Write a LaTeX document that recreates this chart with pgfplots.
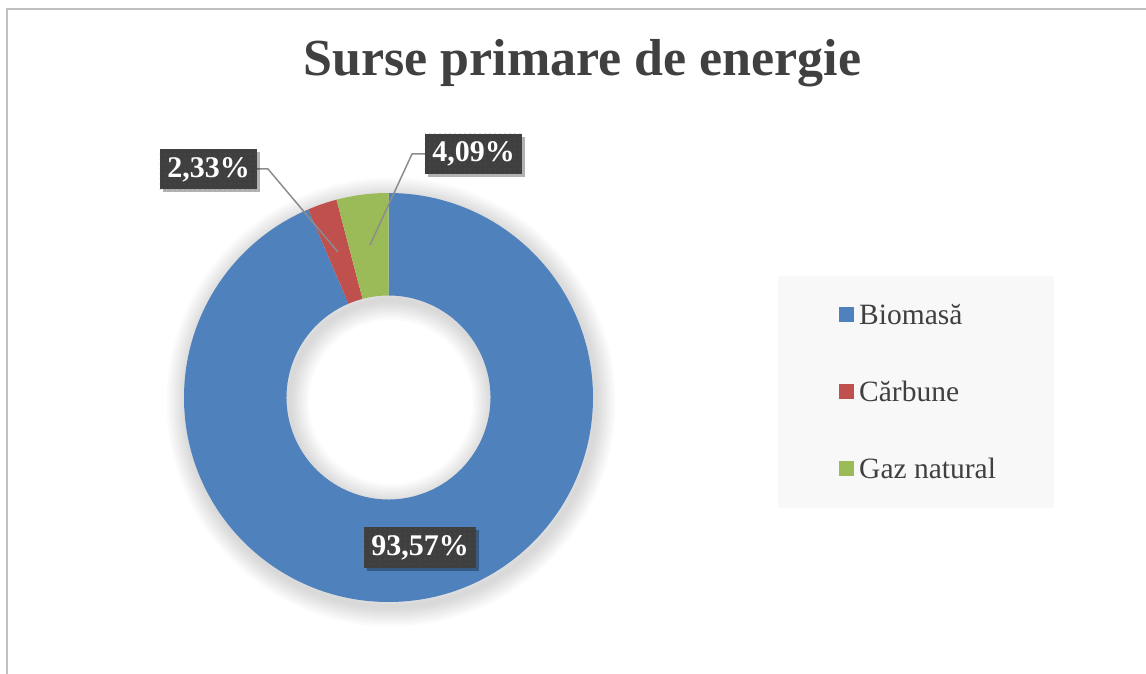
\documentclass[border=0pt]{standalone}
\usepackage{pgfplots}
\pgfplotsset{compat=1.18}
\usepackage{pgfplotstable}
\usepackage{fontspec}
\setmainfont{Liberation Serif}
\usetikzlibrary{patterns.meta,shadows}
\definecolor{cBlue}{HTML}{4F81BD}
\definecolor{cRed}{HTML}{C0504D}
\definecolor{cGreen}{HTML}{9BBB59}
\definecolor{txt}{HTML}{404040}
\definecolor{lbl}{HTML}{3F3F3F}
\definecolor{lbldot}{HTML}{575757}
\definecolor{lgd}{HTML}{F8F8F8}
\definecolor{frm}{HTML}{C0C0C0}
\definecolor{leader}{HTML}{8C8C8C}

\pgfplotstableread[col sep=comma]{
source,value
Biomasa,93.57
Carbune,2.33
Gaz natural,4.09
}\energytable

\newcommand{\cx}{388.5}
\newcommand{\cy}{276.5}
\newcommand{\Ro}{204.5bp}
\newcommand{\Ri}{102bp}
\newcommand{\slice}[3]{%
  \fill[#3] ([shift={(#1:\Ro)}]axis cs:\cx,\cy) arc[start angle=#1, end angle=#2, radius=\Ro]
    -- ([shift={(#2:\Ri)}]axis cs:\cx,\cy) arc[start angle=#2, end angle=#1, radius=\Ri] -- cycle;}
\tikzset{lblbox/.style={fill=lbl, text=white, font=\bfseries\fontsize{30bp}{34bp}\selectfont,
  inner xsep=7.5bp, minimum height=40bp, anchor=center,
  drop shadow={shadow xshift=3bp, shadow yshift=-3bp, opacity=0.3, fill=black},
  postaction={pattern={Dots[radius=0.7bp, distance=5bp]}, pattern color=lbldot}}}

\begin{document}%
\begin{tikzpicture}
\pgfplotstablegetelem{0}{value}\of\energytable \pgfmathsetmacro\vA{\pgfplotsretval}
\pgfplotstablegetelem{1}{value}\of\energytable \pgfmathsetmacro\vB{\pgfplotsretval}
\pgfplotstablegetelem{2}{value}\of\energytable \pgfmathsetmacro\vC{\pgfplotsretval}
\pgfmathsetmacro\tot{\vA+\vB+\vC}
\pgfmathsetmacro\sA{90}
\pgfmathsetmacro\eA{\sA-360*(\vA/\tot)}
\pgfmathsetmacro\eB{\eA-360*(\vB/\tot)}
\pgfmathsetmacro\eC{\eB-360*(\vC/\tot)}
\useasboundingbox (0,0) rectangle (1146bp,674bp);
\begin{axis}[
  at={(0,0)}, anchor=south west,
  x=1bp, y=1bp, xmin=0, xmax=1146, ymin=0, ymax=674,
  hide axis, clip=false]
% soft shadow of the ring
\pgfplotsinvokeforeach{2,4,6,8,10,12,14,16,18,20}{
  \draw[black, opacity=0.017, line width=2*#1bp] (axis cs:391,272) circle[radius=\Ro];
  \draw[black, opacity=0.017, line width=2*#1bp] (axis cs:391,272) circle[radius=\Ri];
}
% donut slices
\slice{\sA}{\eA}{cBlue}
\slice{\eA}{\eB}{cRed}
\slice{\eB}{\eC}{cGreen}
% leader lines
\draw[leader, line width=1.5bp] (axis cs:257,505) -- (axis cs:268,505) -- (axis cs:338,422);
\draw[leader, line width=1.5bp] (axis cs:425,520) -- (axis cs:412,520) -- (axis cs:370,429);
% data labels
\node[lblbox] at (axis cs:208.5,504.5) {2,33\%};
\node[lblbox] at (axis cs:473.5,520) {4,09\%};
\node[lblbox] at (axis cs:420,126.5) {93,57\%};
% legend
\fill[lgd] (axis cs:778,166) rectangle (axis cs:1054,398);
\fill[cBlue] (axis cs:839,351.5) rectangle (axis cs:854,366.5);
\fill[cRed] (axis cs:839,274.5) rectangle (axis cs:854,289.5);
\fill[cGreen] (axis cs:839,197.5) rectangle (axis cs:854,212.5);
\node[anchor=base west, inner sep=0, text=txt, font=\fontsize{29.5bp}{33bp}\selectfont] at (axis cs:859,350) {Biomasă};
\node[anchor=base west, inner sep=0, text=txt, font=\fontsize{29.5bp}{33bp}\selectfont] at (axis cs:859,273) {Cărbune};
\node[anchor=base west, inner sep=0, text=txt, font=\fontsize{29.5bp}{33bp}\selectfont] at (axis cs:859,196) {Gaz natural};
% title
\node[anchor=base, inner sep=0, text=txt, font=\bfseries\fontsize{52bp}{60bp}\selectfont] at (axis cs:582.5,598) {Surse primare de energie};
% frame
\draw[frm, line width=2bp] (axis cs:7,0) -- (axis cs:7,665) -- (axis cs:1146,665);
\end{axis}
\end{tikzpicture}%
\end{document}
